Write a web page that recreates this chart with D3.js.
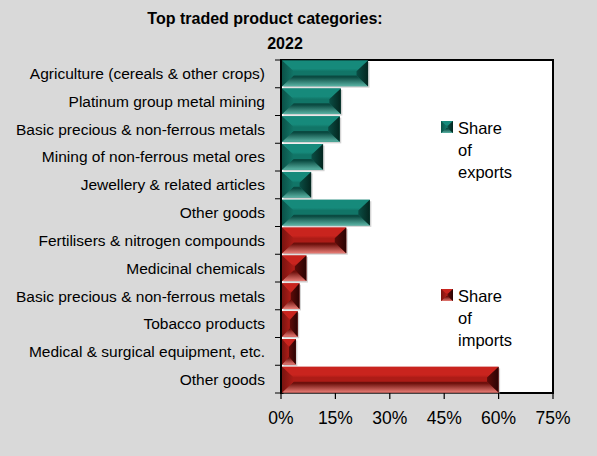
<!DOCTYPE html>
<html>
<head>
<meta charset="utf-8">
<script src="https://cdn.jsdelivr.net/npm/d3@7"></script>
<style>
  html, body { margin: 0; padding: 0; background: #d9d9d9; }
  svg { display: block; font-family: "Liberation Sans", Arial, sans-serif; }
</style>
</head>
<body>
<svg id="chart" width="597" height="456"></svg>
<script>
const titleLines = ["Top traded product categories:", "2022"];
const categories = [
  "Agriculture (cereals & other crops)",
  "Platinum group metal mining",
  "Basic precious & non-ferrous metals",
  "Mining of non-ferrous metal ores",
  "Jewellery & related articles",
  "Other goods",
  "Fertilisers & nitrogen compounds",
  "Medicinal chemicals",
  "Basic precious & non-ferrous metals",
  "Tobacco products",
  "Medical & surgical equipment, etc.",
  "Other goods"
];
const exportShares = [24.0, 16.5, 16.2, 11.6, 8.3, 24.5];
const importShares = [18.0, 7.0, 5.1, 4.6, 4.1, 60.0];
const xTicks = [0, 15, 30, 45, 60, 75];
const seriesNames = ["Share of exports", "Share of imports"];

const rows = categories.map((c, i) => ({
  idx: i,
  label: c,
  series: i < 6 ? 0 : 1,
  value: i < 6 ? exportShares[i] : importShares[i - 6]
}));

const svg = d3.select("#chart");
const L = 281, R = 553, T = 60, B = 393;

const x = d3.scaleLinear().domain([0, 75]).range([L, R]);
const y = d3.scaleBand().domain(d3.range(categories.length)).range([T, B]).paddingInner(0.08).paddingOuter(0.02);

const palettes = [
  { main: "#168a7b", mid: "#117567", light: "#5ab3a4", dark: "#0a4a41", left: "#0b5248", right: "#04261f", rightIn: "#0a4d44" },
  { main: "#c9241e", mid: "#ad1c17", light: "#e87c75", dark: "#6e100c", left: "#7a1410", right: "#2a0303", rightIn: "#5e0c09" }
];

const defs = svg.append("defs");
palettes.forEach((p, k) => {
  const gb = defs.append("linearGradient").attr("id", "bot" + k).attr("x1", 0).attr("y1", 0).attr("x2", 0).attr("y2", 1);
  gb.append("stop").attr("offset", "0%").attr("stop-color", p.dark);
  gb.append("stop").attr("offset", "15%").attr("stop-color", p.dark);
  gb.append("stop").attr("offset", "100%").attr("stop-color", p.light);
  const gt = defs.append("linearGradient").attr("id", "top" + k).attr("x1", 0).attr("y1", 0).attr("x2", 0).attr("y2", 1);
  gt.append("stop").attr("offset", "0%").attr("stop-color", p.main);
  gt.append("stop").attr("offset", "75%").attr("stop-color", p.main);
  gt.append("stop").attr("offset", "100%").attr("stop-color", p.mid);
  const gr = defs.append("linearGradient").attr("id", "right" + k).attr("x1", 0).attr("y1", 0).attr("x2", 1).attr("y2", 0);
  gr.append("stop").attr("offset", "0%").attr("stop-color", p.rightIn);
  gr.append("stop").attr("offset", "100%").attr("stop-color", p.right);
  const gl = defs.append("linearGradient").attr("id", "left" + k).attr("x1", 0).attr("y1", 0).attr("x2", 1).attr("y2", 0);
  gl.append("stop").attr("offset", "0%").attr("stop-color", p.left);
  gl.append("stop").attr("offset", "100%").attr("stop-color", p.mid);
});

// plot area
svg.append("rect").attr("x", L).attr("y", T).attr("width", R - L).attr("height", B - T)
  .attr("fill", "#ffffff").attr("stroke", "#000").attr("stroke-width", 2);

// title
svg.append("text").attr("x", 265).attr("y", 24).attr("text-anchor", "middle")
  .attr("font-size", 16).attr("font-weight", "bold").text(titleLines[0]);
svg.append("text").attr("x", 285).attr("y", 49).attr("text-anchor", "middle")
  .attr("font-size", 16).attr("font-weight", "bold").text(titleLines[1]);

function bevelBar(g, x0, x1, y0, y1, k, shadow) {
  const w = x1 - x0, h = y1 - y0;
  const bx = Math.min(h * 0.45, w / 2);
  const byy = Math.min(h * 0.42, bx + 1);
  const poly = pts => pts.map(p => p.join(",")).join(" ");
  if (shadow) {
    g.append("rect").attr("x", x0 + 1.5).attr("y", y0 + 1.5).attr("width", w).attr("height", h).attr("fill", "#a0a0a0").attr("opacity", 0.45);
  }
  g.append("rect").attr("x", x0).attr("y", y0).attr("width", w).attr("height", h).attr("fill", palettes[k].mid);
  g.append("polygon").attr("points", poly([[x0, y0], [x1, y0], [x1 - bx, y0 + byy], [x0 + bx, y0 + byy]])).attr("fill", `url(#top${k})`);
  g.append("polygon").attr("points", poly([[x0, y1], [x1, y1], [x1 - bx, y1 - byy], [x0 + bx, y1 - byy]])).attr("fill", `url(#bot${k})`);
  g.append("polygon").attr("points", poly([[x0, y0], [x0 + bx, y0 + byy], [x0 + bx, y1 - byy], [x0, y1]])).attr("fill", `url(#left${k})`);
  g.append("polygon").attr("points", poly([[x1, y0], [x1 - bx, y0 + byy], [x1 - bx, y1 - byy], [x1, y1]])).attr("fill", `url(#right${k})`);
}

const barsG = svg.append("g");
rows.forEach(d => {
  const g = barsG.append("g");
  bevelBar(g, x(0) + 1, x(d.value), y(d.idx), y(d.idx) + y.bandwidth(), d.series, true);
});

// y axis
const yAxisG = svg.append("g");
yAxisG.append("line").attr("x1", L).attr("x2", L).attr("y1", T).attr("y2", B).attr("stroke", "#000").attr("stroke-width", 1.5);
const yBounds = d3.range(categories.length + 1).map(i => T + i * (B - T) / categories.length);
yAxisG.selectAll("line.tick").data(yBounds).enter().append("line")
  .attr("x1", L - 6).attr("x2", L).attr("y1", d => d).attr("y2", d => d).attr("stroke", "#000").attr("stroke-width", 1);
yAxisG.selectAll("text").data(rows).enter().append("text")
  .attr("x", 265).attr("y", d => y(d.idx) + y.bandwidth() / 2 + 5.5)
  .attr("text-anchor", "end").attr("font-size", 15.5).attr("fill", "#000").text(d => d.label);

// x axis
const xAxisG = svg.append("g");
xAxisG.selectAll("line.tick").data(xTicks).enter().append("line")
  .attr("x1", d => x(d)).attr("x2", d => x(d)).attr("y1", B).attr("y2", B + 6).attr("stroke", "#000").attr("stroke-width", 1.2);
xAxisG.selectAll("text").data(xTicks).enter().append("text")
  .attr("x", d => x(d)).attr("y", B + 31).attr("text-anchor", "middle").attr("font-size", 17.5).text(d => d + "%");

// legends
const legendDefs = [
  { k: 0, y: 121, lines: ["Share", "of", "exports"] },
  { k: 1, y: 289, lines: ["Share", "of", "imports"] }
];
legendDefs.forEach(ld => {
  const g = svg.append("g");
  bevelBar(g, 441, 453, ld.y, ld.y + 12, ld.k, false);
  ld.lines.forEach((t, i) => {
    g.append("text").attr("x", 458).attr("y", ld.y + 13 + i * 22).attr("font-size", 16.5).text(t);
  });
});
</script>
</body>
</html>
